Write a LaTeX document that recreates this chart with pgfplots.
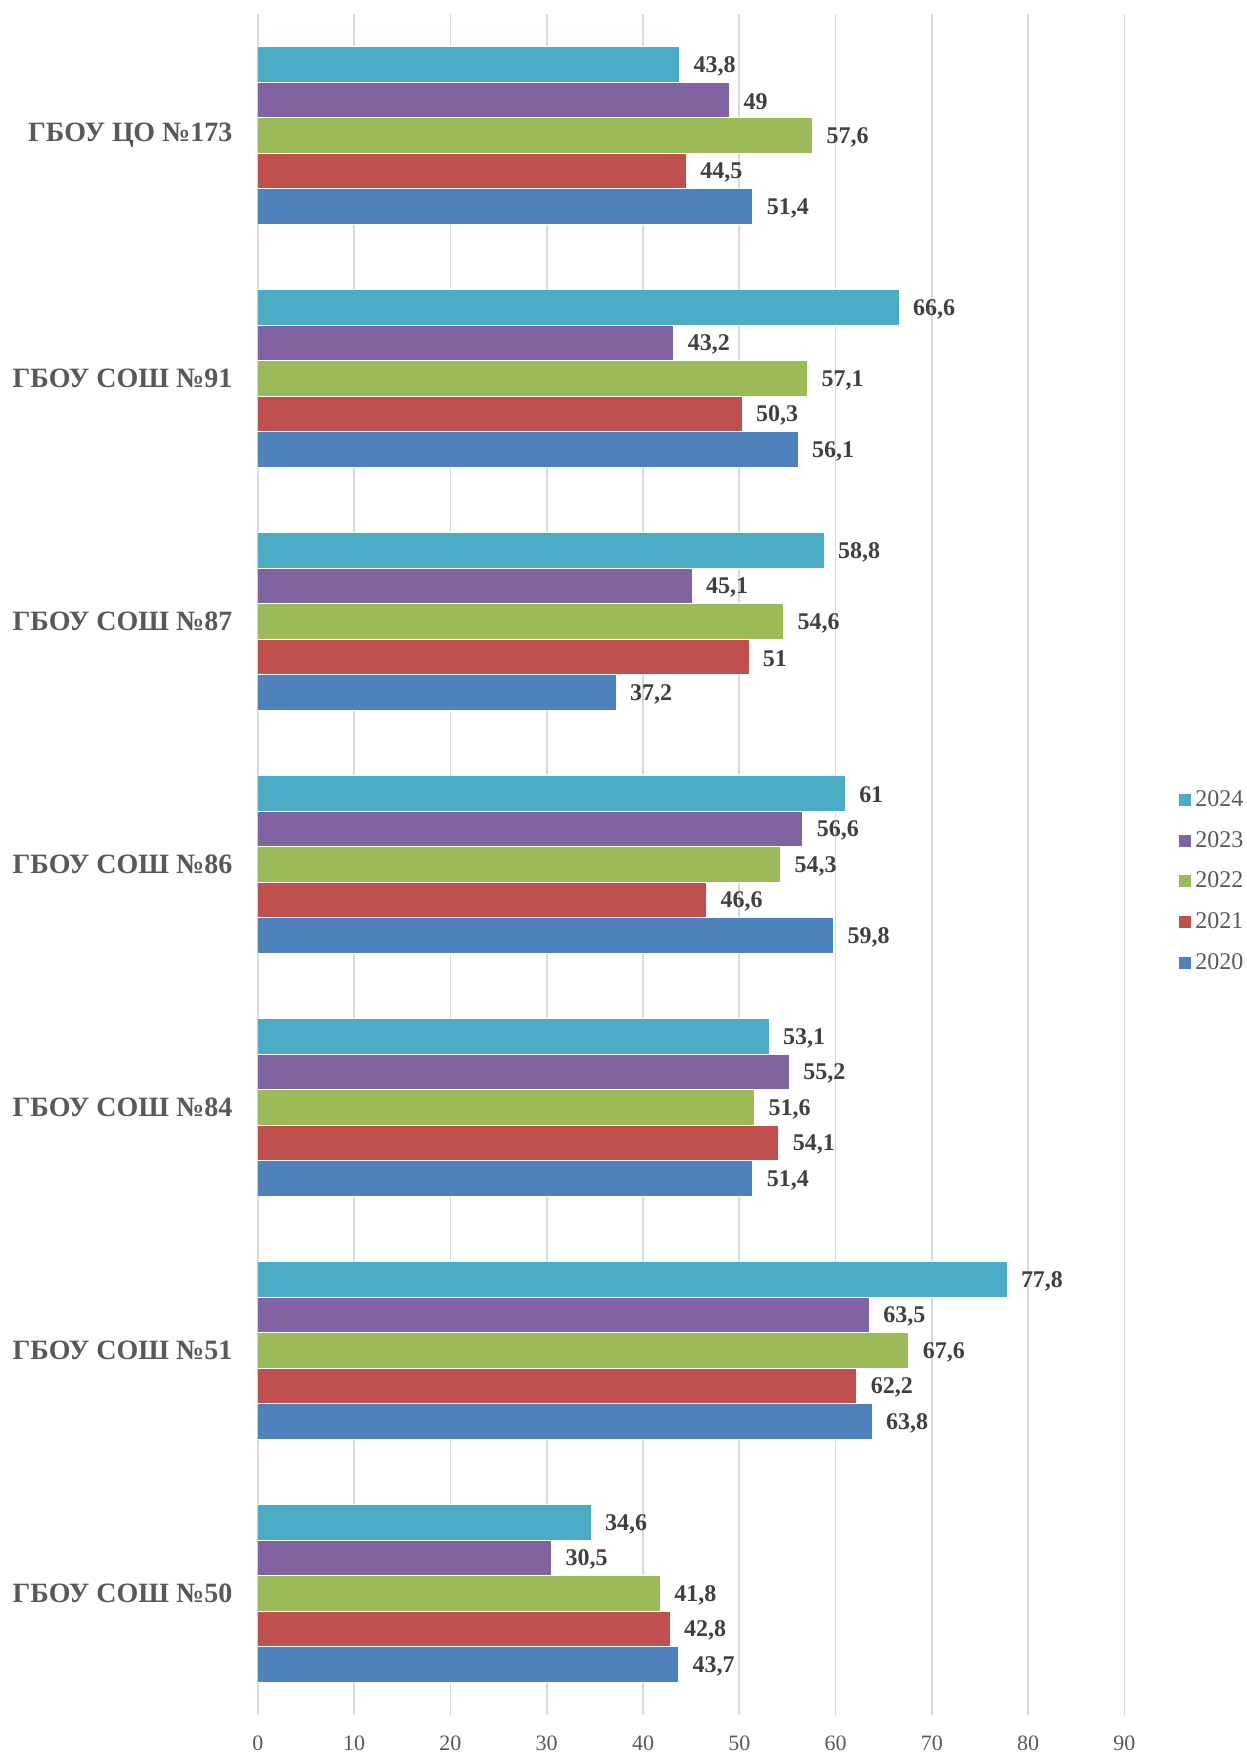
\documentclass[border=0pt]{standalone}
\usepackage{fontspec}
\setmainfont{Liberation Serif}
\usepackage{pgfplots}
\pgfplotsset{compat=1.18}
\definecolor{c2020}{HTML}{4F81BD}
\definecolor{c2021}{HTML}{C0504D}
\definecolor{c2022}{HTML}{9BBB59}
\definecolor{c2023}{HTML}{8064A2}
\definecolor{c2024}{HTML}{4BACC6}
\definecolor{txt}{HTML}{595959}
\definecolor{lbl}{HTML}{404040}
\definecolor{grd}{HTML}{D9D9D9}
\begin{document}
\begin{tikzpicture}
\begin{axis}[
  scale only axis, width=433.5pt, height=851pt,
  xmin=0, xmax=90, ymin=-0.5, ymax=6.5,
  xbar, bar width=17.75pt,
  axis line style={draw=none},
  tick style={draw=none},
  xmajorgrids, grid style={grd, line width=0.9pt},
  xtick={0,10,...,90},
  ytick={0,...,6},
  yticklabels={ГБОУ СОШ №50, ГБОУ СОШ №51, ГБОУ СОШ №84, ГБОУ СОШ №86, ГБОУ СОШ №87, ГБОУ СОШ №91, ГБОУ ЦО №173},
  yticklabel style={font=\fontsize{14}{16}\selectfont\bfseries, text=txt, xshift=-5pt},
  xticklabel style={font=\fontsize{11}{13}\selectfont, text=txt, yshift=-7pt},
  /pgf/number format/assume math mode=true,
  /pgf/number format/use comma, /pgf/number format/fixed, /pgf/number format/precision=1,
  nodes near coords,
  nodes near coords style={font=\fontsize{12}{14}\selectfont\bfseries, text=lbl, anchor=west, xshift=3.5pt, yshift=-0.8pt},
  every axis plot/.append style={draw=white, line width=0.4pt},
  reverse legend,
  legend cell align=left,
  legend style={draw=none, fill=none, at={(rel axis cs:1.063,0.490)}, anchor=west,
    font=\fontsize{12}{14}\selectfont, text=txt, row sep=7pt, inner sep=0pt,
    /tikz/every even column/.append style={column sep=0pt}},
  legend image code/.code={\path[#1, draw=none] (0pt,-3pt) rectangle (6pt,3pt);},
]
\addplot[fill=c2020, bar shift=-35.5pt] coordinates {(43.7,0) (63.8,1) (51.4,2) (59.8,3) (37.2,4) (56.1,5) (51.4,6)};
\addplot[fill=c2021, bar shift=-17.75pt] coordinates {(42.8,0) (62.2,1) (54.1,2) (46.6,3) (51,4) (50.3,5) (44.5,6)};
\addplot[fill=c2022, bar shift=0pt] coordinates {(41.8,0) (67.6,1) (51.6,2) (54.3,3) (54.6,4) (57.1,5) (57.6,6)};
\addplot[fill=c2023, bar shift=17.75pt] coordinates {(30.5,0) (63.5,1) (55.2,2) (56.6,3) (45.1,4) (43.2,5) (49,6)};
\addplot[fill=c2024, bar shift=35.5pt] coordinates {(34.6,0) (77.8,1) (53.1,2) (61,3) (58.8,4) (66.6,5) (43.8,6)};
\legend{2020,2021,2022,2023,2024}
\coordinate (bbSW) at (rel axis cs:-0.2976,-0.0241);
\coordinate (bbNE) at (rel axis cs:1.1407,1.0082);
\end{axis}
\pgfresetboundingbox
\useasboundingbox (bbSW) rectangle (bbNE);
\end{tikzpicture}
\end{document}
